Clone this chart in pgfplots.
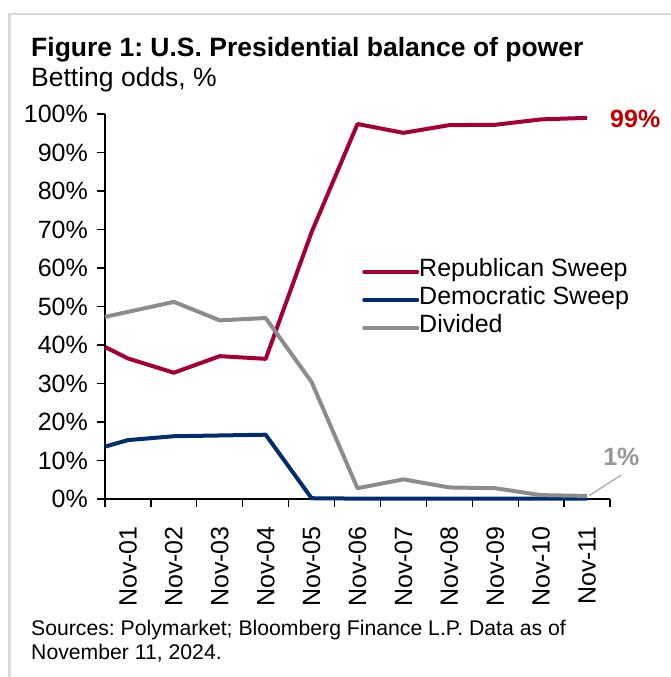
\documentclass[border=0pt]{standalone}
\usepackage{pgfplots}
\pgfplotsset{compat=1.18}
\usepackage{fontspec}
\setmainfont{Liberation Sans}
\definecolor{rep}{HTML}{A50034}
\definecolor{dem}{HTML}{002D6E}
\definecolor{divd}{HTML}{8C8C8C}
\definecolor{red99}{HTML}{C00000}
\definecolor{gray1}{HTML}{969696}
\definecolor{frame}{HTML}{D9D9D9}
\newcommand{\bigf}{\fontsize{25}{28}\selectfont}
\newcommand{\titf}{\fontsize{26.5}{30}\selectfont}
\newcommand{\smf}{\fontsize{21.2}{24}\selectfont}
\frenchspacing
\begin{document}
\begin{tikzpicture}[x=1pt,y=1pt]
\useasboundingbox (0,0) rectangle (671,677);
\draw[frame, line width=2.5pt] (9.5,0) -- (9.5,663) -- (671,663);
\node[anchor=base west, inner sep=0pt, font=\titf\bfseries] at (31,620) {Figure 1: U.S. Presidential balance of power};
\node[anchor=base west, inner sep=0pt, font=\titf] at (31,590) {Betting odds, \%};
\node[anchor=base west, inner sep=0pt, font=\smf, align=left] at (31,41) {Sources: Polymarket; Bloomberg Finance L.P. Data as of};
\node[anchor=base west, inner sep=0pt, font=\smf, align=left] at (31,17) {November 11, 2024.};
\begin{axis}[
  at={(105pt,178pt)}, anchor=south west,
  scale only axis, width=505pt, height=385pt,
  xmin=-0.5, xmax=10.5, ymin=0, ymax=100,
  axis lines*=left,
  axis line style={line width=1.2pt, black},
  tick align=outside,
  tick style={line width=1.2pt, black},
  xtick={0,...,10},
  xticklabels={Nov-01,Nov-02,Nov-03,Nov-04,Nov-05,Nov-06,Nov-07,Nov-08,Nov-09,Nov-10,Nov-11},
  major x tick style={draw=none},
  minor xtick={-0.5,0.5,...,10.5},
  minor tick length=8pt,
  major tick length=8pt,
  x tick label style={rotate=90, anchor=east, inner sep=0pt, font=\bigf},
  xticklabel shift=19pt,
  ytick={0,10,...,100},
  yticklabel={\pgfmathprintnumber{\tick}\%},
  y tick label style={anchor=east, inner sep=0pt, font=\bigf},
  yticklabel shift=9pt,
  /pgf/number format/assume math mode=true,
  clip=false,
  legend style={at={(0.509,0.627)}, anchor=north west, draw=none, fill=none,
    font=\bigf, inner sep=0pt, row sep=0pt,
    nodes={inner sep=0pt, text height=19pt, text depth=9pt}},
  legend cell align=left,
  legend image code/.code={\draw[#1, line cap=round] (0pt,0pt) -- (53pt,0pt);},
  every axis plot/.append style={line width=4pt, line join=round},
]
\addplot[rep] coordinates {(-0.5,39.5) (0,36.5) (1,32.8) (2,37.1) (3,36.4) (4,69.3) (5,97.4) (6,95.1) (7,97.1) (8,97.2) (9,98.6) (10,99.0)};
\addlegendentry{Republican Sweep}
\addplot[dem] coordinates {(-0.5,13.6) (0,15.3) (1,16.3) (2,16.5) (3,16.7) (4,0.2) (5,0.1) (6,0.1) (7,0.1) (8,0.1) (9,0.1) (10,0.1)};
\addlegendentry{Democratic Sweep}
\addplot[divd] coordinates {(-0.5,47.3) (0,48.6) (1,51.2) (2,46.4) (3,47.0) (4,30.4) (5,2.8) (6,5.1) (7,3.0) (8,2.8) (9,1.0) (10,0.8)};
\addlegendentry{Divided}
\node[anchor=base west, inner sep=0pt, font=\bigf\bfseries, text=red99] at (axis cs:10.5,96.4) {99\%};
\draw[gray1!80, line width=1.3pt] (axis cs:10.05,0.9) -- (axis cs:10.74,6.2);
\node[anchor=base west, inner sep=0pt, font=\bigf\bfseries, text=gray1] at (axis cs:10.35,8.8) {1\%};
\end{axis}
\end{tikzpicture}
\end{document}
